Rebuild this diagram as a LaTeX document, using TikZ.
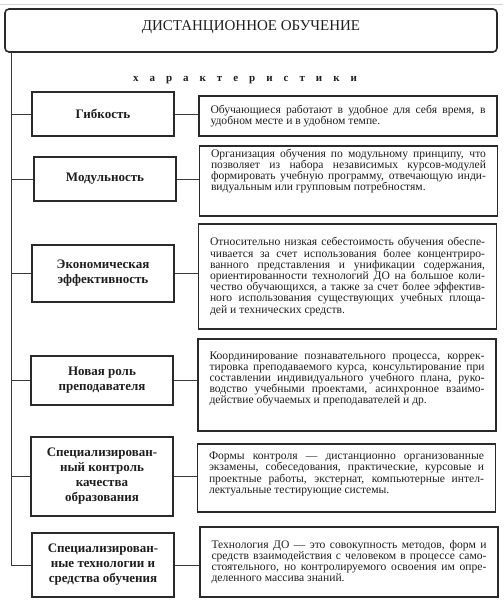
\documentclass[tikz,border=0pt]{standalone}
\usepackage{fontspec}
\setmainfont{Liberation Serif}
\usetikzlibrary{positioning,calc}
\definecolor{boxline}{HTML}{2A2A2A}
\definecolor{lnk}{HTML}{3A3A3A}
\definecolor{txtc}{HTML}{1E1E1E}
\definecolor{pagerule}{HTML}{D4D4D4}
\newcommand{\lsp}{\hspace{11pt}}
\hyphenpenalty=10000
\exhyphenpenalty=10000

\begin{document}
\begin{tikzpicture}[x=1pt,y=-1pt,
  ttl/.style={draw=boxline, line width=1.6pt, rounded corners=4pt, minimum width=492pt, minimum height=43pt, inner sep=0pt, text height=10pt, text depth=9pt, font=\fontsize{15}{17}\selectfont, text=txtc},
  spc/.style={font=\fontsize{11}{13}\selectfont\bfseries, text=txtc},
  lbl/.style={draw=boxline, line width=1.1pt, minimum width=142pt, inner sep=2pt, align=center, font=\fontsize{13}{15}\selectfont\bfseries, text=txtc},
  dbox/.style={draw=boxline, line width=1.1pt, text width=275pt, inner xsep=11.5pt, inner ysep=0pt, align=justify, font=\fontsize{11.6}{11.2}\selectfont, text=txtc},
  conn/.style={line width=0.9pt, color=lnk},
]
\useasboundingbox (0,0) rectangle (503,604);
\draw[pagerule, line width=0.8pt] (0,4) -- (503,4);
\node[ttl] (title) at (251,30.5) {ДИСТАНЦИОННОЕ ОБУЧЕНИЕ};
\node[spc] (head) at (245,80) {х\lsp а\lsp р\lsp а\lsp к\lsp т\lsp е\lsp р\lsp и\lsp с\lsp т\lsp и\lsp к\lsp и};
% characteristics
\node[lbl, minimum height=44pt] (l1) at (103,114) {Гибкость};
\node[lbl, minimum height=44pt] (l2) at (105,179) {Модульность};
\node[lbl, minimum height=57pt] (l3) at (103,273.5) {Экономическая\\эффективность};
\node[lbl, minimum height=49pt] (l4) at (102,380.5) {Новая роль\\преподавателя};
\node[lbl, minimum height=79pt] (l5) at (102,476.5) {Специализирован-\\ный контроль\\качества\\образования};
\node[lbl, minimum height=64pt] (l6) at (103,565) {Специализирован-\\ные технологии и\\средства обучения};
% descriptions
\node[dbox, minimum height=40pt] (d1) at (348,116) {\fontsize{11.6}{14}\selectfont Обучающиеся работают в удобное для себя время, в\linebreak удобном месте и в удобном темпе.};
\node[dbox, minimum height=70pt] (d2) at (348.5,181) {Организация обучения по модульному принципу, что\linebreak позволяет из набора независимых курсов-модулей\linebreak формировать учебную программу, отвечающую инди-\linebreak видуальным или групповым потребностям.\par\vspace*{20pt}};
\node[dbox, minimum height=105pt] (d3) at (347.5,276.5) {Относительно низкая себестоимость обучения обеспе-\linebreak чивается за счет использования более концентриро-\linebreak ванного представления и унификации содержания,\linebreak ориентированности технологий ДО на большое коли-\linebreak чество обучающихся, а также за счет более эффектив-\linebreak ного использования существующих учебных площа-\linebreak дей и технических средств.};
\node[dbox, minimum height=92pt] (d4) at (347,385) {Координирование познавательного процесса, коррек-\linebreak тировка преподаваемого курса, консультирование при\linebreak составлении индивидуального учебного плана, руко-\linebreak водство учебными проектами, асинхронное взаимо-\linebreak действие обучаемых и преподавателей и др.\par\vspace*{12pt}};
\node[dbox, minimum height=68pt] (d5) at (346.5,478) {Формы контроля — дистанционно организованные\linebreak экзамены, собеседования, практические, курсовые и\linebreak проектные работы, экстернат, компьютерные интел-\linebreak лектуальные тестирующие системы.\par\vspace*{8pt}};
\node[dbox, minimum height=70pt] (d6) at (349,562) {Технология ДО — это совокупность методов, форм и\linebreak средств взаимодействия с человеком в процессе само-\linebreak стоятельного, но контролируемого освоения им опре-\linebreak деленного массива знаний.};
% trunk and branches
\coordinate (tr) at (11,52);
\draw[conn] (tr) |- (l6.west);
\foreach \i in {1,...,5} {\draw[conn] (tr |- l\i.west) -- (l\i.west);}
\foreach \i in {1,...,6} {\draw[conn] (l\i.east) -- (d\i.west |- l\i.east);}
\end{tikzpicture}
\end{document}
